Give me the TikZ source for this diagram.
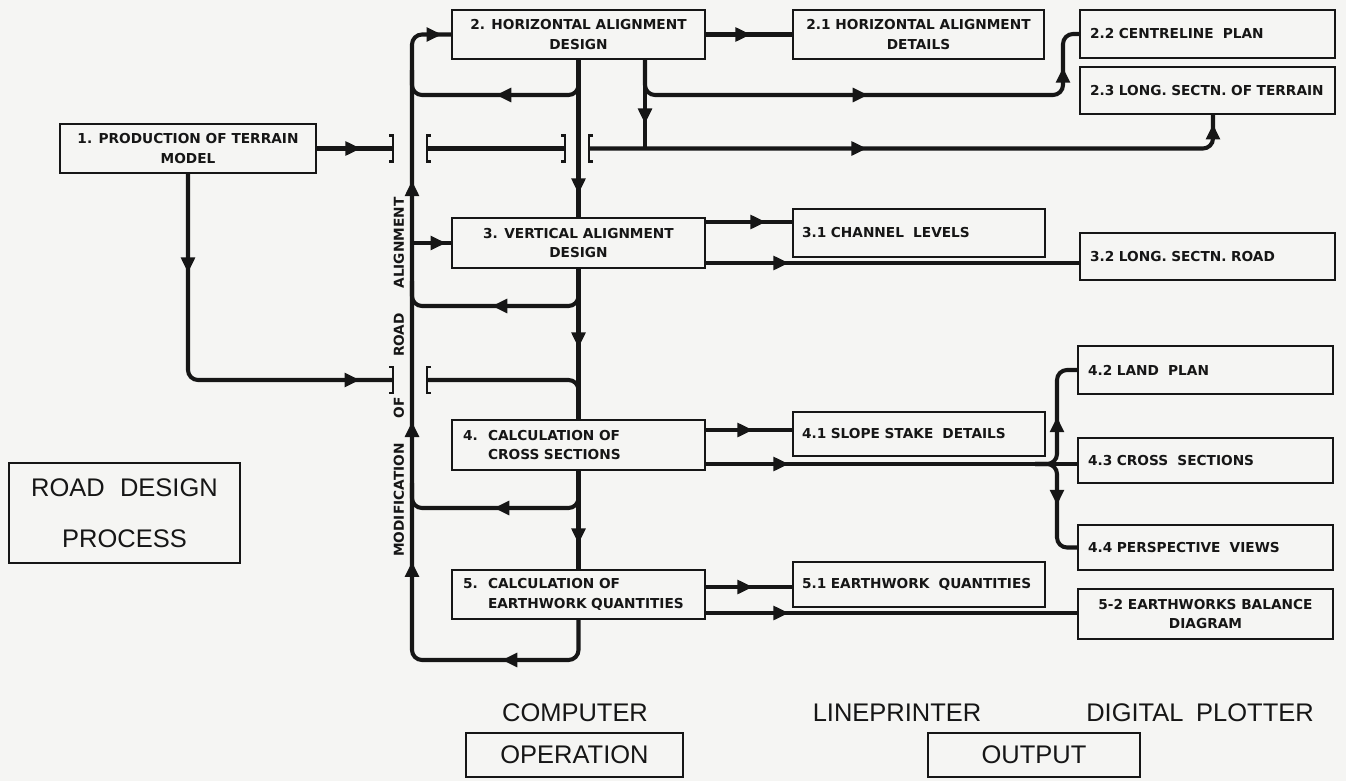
\documentclass[tikz,border=0pt]{standalone}
\usepackage{fontspec}
\setmainfont{DejaVu Sans}
\newfontfamily\labfont{Liberation Sans}
\usetikzlibrary{arrows.meta,decorations.markings}
\definecolor{bgc}{RGB}{245,245,243}
\definecolor{ink}{RGB}{22,22,22}
\begin{document}
\begin{tikzpicture}[x=0.02cm,y=-0.02cm,
  box/.style={draw=ink, line width=1.1pt, inner sep=0pt, text=ink, font=\bfseries\fontsize{7.8}{11}\selectfont},
  cbox/.style={box, align=center},
  lbox/.style={box, align=left, inner xsep=0.2cm},
  conn/.style={draw=ink, line width=2.3pt, rounded corners=0.2cm},
  midar/.style={postaction={decorate, decoration={markings, mark=at position #1 with {\arrow[ink]{Triangle[length=0.31cm,width=0.27cm]}}}}},
  brk/.style={draw=ink, line width=1.4pt},
  pics/rbrk/.style={code={\draw[brk] (-4,-13) -- (0,-13) -- (0,13) -- (-4,13);}},
  pics/lbrk/.style={code={\draw[brk] (4,-13) -- (0,-13) -- (0,13) -- (4,13);}},
  rot/.style={rotate=90, inner sep=0pt, text=ink, font=\bfseries\fontsize{7.8}{9}\selectfont},
  big/.style={text=ink, inner sep=0pt, font=\labfont\fontsize{14.5}{29}\selectfont},
  bigbox/.style={big, draw=ink, line width=1.1pt, align=center},
]
\fill[bgc] (0,0) rectangle (1346,781);
\useasboundingbox (0,0) rectangle (1346,781);

% ---- process boxes
\node[cbox, minimum width=5.12cm, minimum height=0.98cm] (b1) at (188,148.5) {1. PRODUCTION OF TERRAIN\\MODEL};
\node[cbox, minimum width=5.06cm, minimum height=0.98cm] (b2) at (578.5,34.5) {2. HORIZONTAL ALIGNMENT\\DESIGN};
\node[cbox, minimum width=5.06cm, minimum height=1.0cm] (b3) at (578.5,243) {3. VERTICAL ALIGNMENT\\DESIGN};
\node[lbox, inner xsep=0.22cm, text width=4.62cm, minimum height=1.0cm] (b4) at (578.5,445) {\makebox[0.5cm][l]{4.}CALCULATION OF\\\hspace*{0.5cm}CROSS SECTIONS};
\node[lbox, inner xsep=0.22cm, text width=4.62cm, minimum height=0.98cm] (b5) at (578.5,594.5) {\makebox[0.5cm][l]{5.}CALCULATION OF\\\hspace*{0.5cm}EARTHWORK QUANTITIES};

% ---- output boxes, middle column
\node[cbox, minimum width=5.02cm, minimum height=0.98cm] (b21) at (918.5,34.5) {2.1 HORIZONTAL ALIGNMENT\\DETAILS};
\node[lbox, inner xsep=0.18cm, text width=4.68cm, minimum height=0.96cm] (b31) at (919,233) {3.1 CHANNEL\ \ LEVELS};
\node[lbox, inner xsep=0.18cm, text width=4.68cm, minimum height=0.88cm] (b41) at (919,434) {4.1 SLOPE STAKE\ \ DETAILS};
\node[lbox, inner xsep=0.18cm, text width=4.68cm, minimum height=0.9cm] (b51) at (919,584.5) {5.1 EARTHWORK\ \ QUANTITIES};

% ---- output boxes, right column
\node[lbox, text width=4.7cm, minimum height=0.96cm] (b22) at (1207.5,34) {2.2 CENTRELINE\ \ PLAN};
\node[lbox, text width=4.7cm, minimum height=0.94cm] (b23) at (1207.5,90.5) {2.3 LONG. SECTN. OF TERRAIN};
\node[lbox, text width=4.7cm, minimum height=0.94cm] (b32) at (1207.5,256.5) {3.2 LONG. SECTN. ROAD};
\node[lbox, text width=4.7cm, minimum height=0.96cm] (b42) at (1205.5,370) {4.2 LAND\ \ PLAN};
\node[lbox, text width=4.7cm, minimum height=0.9cm] (b43) at (1205.5,460.5) {4.3 CROSS\ \ SECTIONS};
\node[lbox, text width=4.7cm, minimum height=0.9cm] (b44) at (1205.5,547.5) {4.4 PERSPECTIVE\ \ VIEWS};
\node[cbox, minimum width=5.1cm, minimum height=1.0cm] (b52) at (1205.5,614) {5-2 EARTHWORKS BALANCE\\DIAGRAM};

% ---- labels
\node[bigbox, minimum width=4.62cm, minimum height=2.0cm] (rdp) at (124.5,513) {ROAD\hspace{0.6em}DESIGN\\PROCESS};
\node[big] (comp) at (575,713) {COMPUTER};
\node[bigbox, minimum width=4.34cm, minimum height=0.88cm] (oper) at (574.5,755) {OPERATION};
\node[big] (lp) at (897,713) {LINEPRINTER};
\node[big] (dp) at (1200,713) {DIGITAL\hspace{0.5em}PLOTTER};
\node[bigbox, minimum width=4.24cm, minimum height=0.88cm] (outp) at (1034,755) {OUTPUT};

\node[rot] (t1) at (399,500) {MODIFICATION};
\node[rot] (t2) at (399,408) {OF};
\node[rot] (t3) at (399,335) {ROAD};
\node[rot] (t4) at (399,243) {ALIGNMENT};

% ---- helper coordinates
\coordinate (sp) at (412,0);
\coordinate (v2) at (645,0);
\coordinate (x22) at (1063,0);
\coordinate (x23) at (1213,0);
\coordinate (j4) at (1057,464);
\coordinate (j4a) at (1035,464);
\coordinate (y95) at (0,95);
\coordinate (y306) at (0,306);
\coordinate (y508) at (0,508);
\coordinate (y660) at (0,660);
\coordinate (y222) at (0,222);
\coordinate (y263) at (0,263);
\coordinate (y430) at (0,430);
\coordinate (y587) at (0,587);
\coordinate (y613) at (0,613);
\coordinate (br1) at (393,148.5);
\coordinate (br2) at (427,148.5);
\coordinate (br3) at (565,148.5);
\coordinate (br4) at (589,148.5);
\coordinate (br5) at (393,380);
\coordinate (br6) at (427,380);

% ---- crossing brackets
\pic at (br1) {rbrk};
\pic at (br2) {lbrk};
\pic at (br3) {rbrk};
\pic at (br4) {lbrk};
\pic at (br5) {rbrk};
\pic at (br6) {lbrk};

% ---- modification loop (spine)
\draw[conn, midar=2.25cm, midar=5.93cm, midar=8.73cm, midar=13.55cm, midar=-0.18cm]
  (b5.south) -- (b5.south |- y660) -- (sp |- y660) -- (sp |- b2.west) -- (b2.west);
\draw[conn, midar=2.27cm] (b2.south) -- (b2.south |- y95) -- (sp |- y95) -- ++(0,-25);
\draw[conn, midar=2.39cm] (b3.south) -- (b3.south |- y306) -- (sp |- y306) -- ++(0,-25);
\draw[conn, midar=2.35cm] (b4.south) -- (b4.south |- y508) -- (sp |- y508) -- ++(0,-25);
\draw[conn, midar=-0.1cm] (sp |- b3.west) -- (b3.west);

% ---- main flow
\draw[conn, midar=2.68cm] (b2.south) -- (b3.north);
\draw[conn, midar=1.58cm] (b3.south) -- (b4.north);
\draw[conn, midar=1.46cm] (b4.south) -- (b5.north);

% ---- terrain model flows
\draw[conn, midar=0.88cm] (b1.east) -- (br1);
\draw[conn] (br2) -- (br3);
\draw[conn, midar=5.56cm, midar=-0.18cm] (br4) -- (x23 |- br4) -- (x23 |- b23.south);
\draw[conn, midar=1.98cm, midar=-0.66cm] (b1.south) -- (b1.south |- br5) -- (br5);
\draw[conn] (br6) -- (b4.north |- br6) -- (b4.north);

% ---- from horizontal alignment design
\draw[conn, midar=1.28cm] (b2.south -| v2) -- (v2 |- br4);
\draw[conn, midar=5.08cm, midar=-0.9cm] (b2.south -| v2) -- (v2 |- y95) -- (x22 |- y95) -- (x22 |- b22.west) -- (b22.west);
\draw[conn, midar=0.9cm] (b2.east) -- (b21.west);

% ---- outputs
\draw[conn, midar=1.2cm] (b3.east |- y222) -- (b31.west |- y222);
\draw[conn, midar=1.66cm] (b3.east |- y263) -- (b32.west |- y263);
\draw[conn, midar=0.94cm] (b4.east |- y430) -- (b41.west |- y430);
\draw[conn, midar=1.66cm] (b4.east |- j4) -- (b43.west |- j4);
\draw[conn, midar=1.3cm] (j4a) -- (j4) -- (j4 |- b42.west) -- (b42.west);
\draw[conn, midar=1.18cm] (j4a) -- (j4) -- (j4 |- b44.west) -- (b44.west);
\draw[conn, midar=0.94cm] (b5.east |- y587) -- (b51.west |- y587);
\draw[conn, midar=1.66cm] (b5.east |- y613) -- (b52.west |- y613);
\end{tikzpicture}
\end{document}
